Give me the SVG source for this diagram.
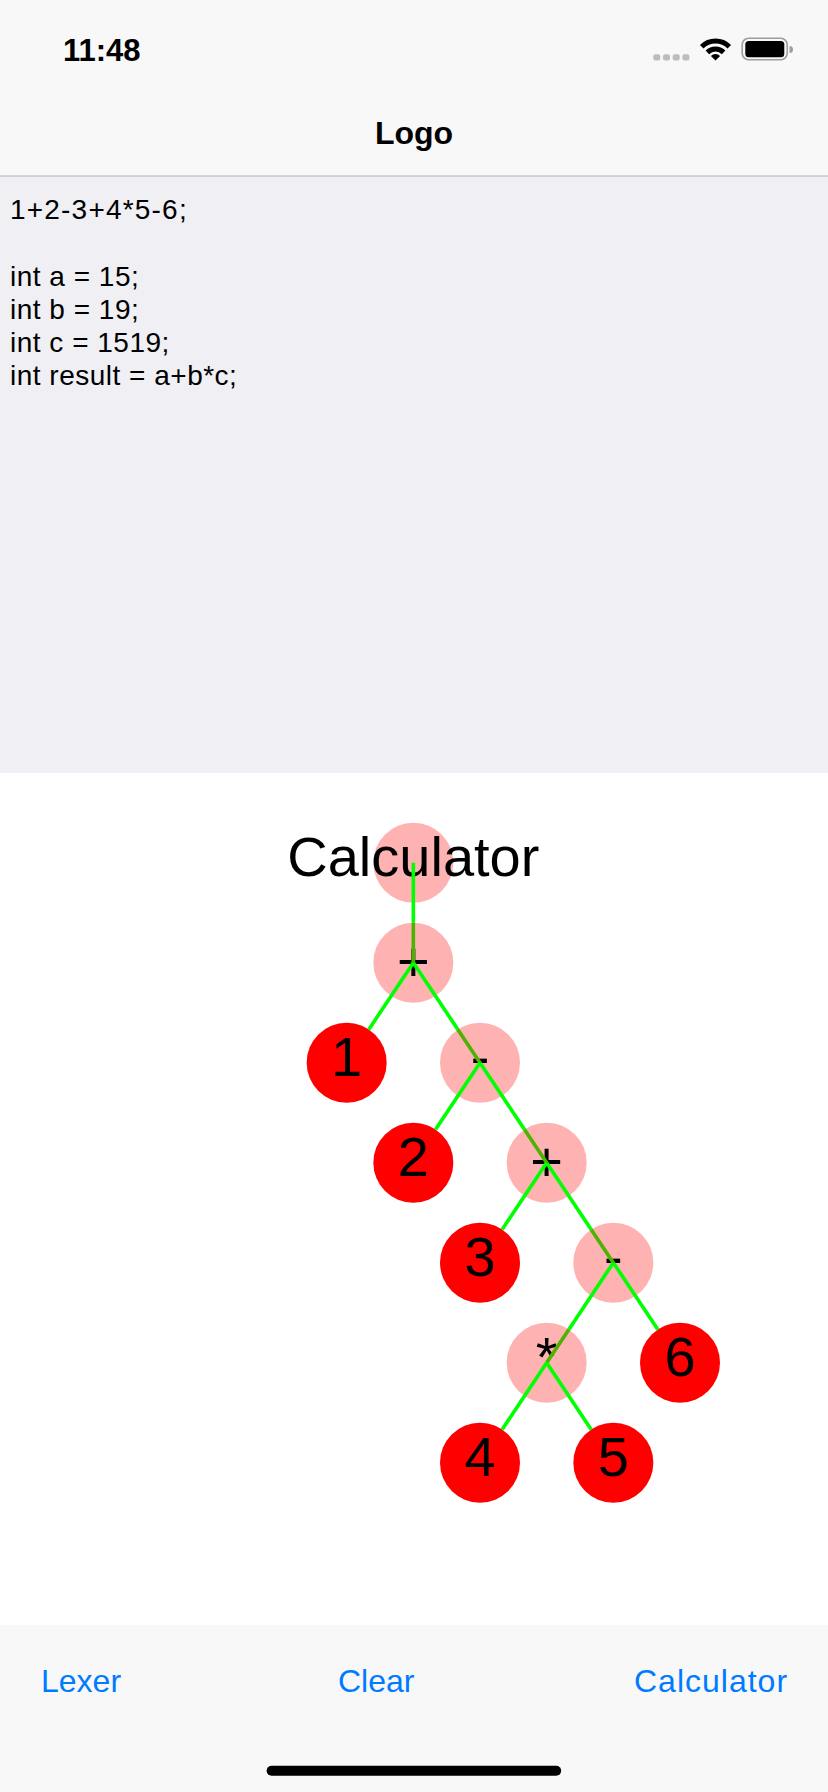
<svg xmlns="http://www.w3.org/2000/svg" width="828" height="1792" viewBox="0 0 828 1792">
  <style>
    .ui { font-family: "Liberation Sans", Arial, Helvetica, sans-serif; }
    .code { font-family: "Liberation Sans", Arial, Helvetica, sans-serif; font-size: 28px; fill: #000; letter-spacing: 0.5px; }
    .code.wide { letter-spacing: 1.2px; }
    .btn { font-family: "Liberation Sans", Arial, Helvetica, sans-serif; font-size: 32px; fill: #007AFF; }
    .lbl { font-family: "Liberation Sans", Arial, Helvetica, sans-serif; font-size: 56px; fill: #000; text-anchor: middle; }
    .op { fill: #FF0000; fill-opacity: 0.3; }
    .num { fill: #FF0000; }
    .edge { stroke: #00FF00; stroke-width: 3.6; fill: none; }
    .edge-in { stroke: #4DB300; stroke-width: 3.6; fill: none; }
  </style>

  <!-- backgrounds -->
  <rect x="0" y="0" width="828" height="176" fill="#F8F8F8"/>
  <rect x="0" y="176" width="828" height="597" fill="#EFEFF4"/>
  <rect x="0" y="175.5" width="828" height="1" fill="#B2B2B2"/>
  <rect x="0" y="773" width="828" height="852" fill="#FFFFFF"/>
  <rect x="0" y="1625" width="828" height="167" fill="#F8F8F8"/>

  <!-- status bar -->
  <g id="status-bar">
    <text class="ui" x="63" y="61" font-size="31" font-weight="bold" fill="#000">11:48</text>
    <g fill="#BDBDBD">
      <rect x="653.3" y="54.3" width="7" height="6.3" rx="2"/>
      <rect x="663" y="54.3" width="7" height="6.3" rx="2"/>
      <rect x="672.7" y="54.3" width="7" height="6.3" rx="2"/>
      <rect x="682.4" y="54.3" width="7" height="6.3" rx="2"/>
    </g>
    <g fill="none" stroke="#000" stroke-width="5">
      <path d="M 701.71 46.71 A 19.5 19.5 0 0 1 729.29 46.71"/>
      <path d="M 707.37 52.37 A 11.5 11.5 0 0 1 723.63 52.37"/>
    </g>
    <path d="M 715.5 60.5 L 710.9 55.9 A 6.5 6.5 0 0 1 720.1 55.9 Z" fill="#000"/>
    <rect x="742.2" y="38.2" width="45" height="21.6" rx="6.5" fill="none" stroke="#9E9E9E" stroke-width="1.6"/>
    <rect x="745.3" y="41" width="39" height="16.3" rx="3.5" fill="#000"/>
    <path d="M 789.5 46 A 3.5 3.5 0 0 1 789.5 53 Z" fill="#9E9E9E"/>
  </g>

  <!-- navigation title -->
  <text class="ui" x="414" y="144" font-size="32" font-weight="bold" fill="#000" text-anchor="middle">Logo</text>

  <!-- code text -->
  <g id="code-text">
    <text class="code wide" x="10" y="219">1+2-3+4*5-6;</text>
    <text class="code" x="10" y="285.5">int a = 15;</text>
    <text class="code" x="10" y="318.8">int b = 19;</text>
    <text class="code" x="10" y="352.1">int c = 1519;</text>
    <text class="code" x="10" y="385.4">int result = a+b*c;</text>
  </g>

  <!-- tree nodes -->
  <g id="node-root">
    <circle class="op" cx="413.33" cy="862.67" r="40"/>
    <text class="lbl" x="413.33" y="876">Calculator</text>
  </g>
  <g id="node-plus1">
    <circle class="op" cx="413.33" cy="962.67" r="40"/>
    <text class="lbl" x="413.33" y="981">+</text>
  </g>
  <g id="node-1">
    <circle class="num" cx="346.67" cy="1062.67" r="40"/>
    <text class="lbl" x="346.67" y="1076.2">1</text>
  </g>
  <g id="node-minus1">
    <circle class="op" cx="480" cy="1062.67" r="40"/>
    <text class="lbl" x="480" y="1076.2">-</text>
  </g>
  <g id="node-2">
    <circle class="num" cx="413.33" cy="1162.67" r="40"/>
    <text class="lbl" x="413.33" y="1176.2">2</text>
  </g>
  <g id="node-plus2">
    <circle class="op" cx="546.67" cy="1162.67" r="40"/>
    <text class="lbl" x="546.67" y="1181">+</text>
  </g>
  <g id="node-3">
    <circle class="num" cx="480" cy="1262.67" r="40"/>
    <text class="lbl" x="480" y="1276.2">3</text>
  </g>
  <g id="node-minus2">
    <circle class="op" cx="613.33" cy="1262.67" r="40"/>
    <text class="lbl" x="613.33" y="1276.2">-</text>
  </g>
  <g id="node-star">
    <circle class="op" cx="546.67" cy="1362.67" r="40"/>
    <text class="lbl" x="546.67" y="1376.2">*</text>
  </g>
  <g id="node-6">
    <circle class="num" cx="680" cy="1362.67" r="40"/>
    <text class="lbl" x="680" y="1376.2">6</text>
  </g>
  <g id="node-4">
    <circle class="num" cx="480" cy="1462.67" r="40"/>
    <text class="lbl" x="480" y="1476.2">4</text>
  </g>
  <g id="node-5">
    <circle class="num" cx="613.33" cy="1462.67" r="40"/>
    <text class="lbl" x="613.33" y="1476.2">5</text>
  </g>

  <!-- connectors -->
  <g id="connectors">
    <path class="edge" d="M 413.33 862.67 L 413.33 922.67"/>
    <path class="edge-in" d="M 413.33 922.67 L 413.33 962.67"/>
    <path class="edge" d="M 413.33 962.67 L 368.86 1029.39"/>
    <path class="edge" d="M 413.33 962.67 L 457.81 1029.39"/>
    <path class="edge-in" d="M 457.81 1029.39 L 480 1062.67"/>
    <path class="edge" d="M 480 1062.67 L 435.52 1129.39"/>
    <path class="edge" d="M 480 1062.67 L 524.48 1129.39"/>
    <path class="edge-in" d="M 524.48 1129.39 L 546.67 1162.67"/>
    <path class="edge" d="M 546.67 1162.67 L 502.19 1229.39"/>
    <path class="edge" d="M 546.67 1162.67 L 591.14 1229.39"/>
    <path class="edge-in" d="M 591.14 1229.39 L 613.33 1262.67"/>
    <path class="edge" d="M 613.33 1262.67 L 568.86 1329.39"/>
    <path class="edge-in" d="M 568.86 1329.39 L 546.67 1362.67"/>
    <path class="edge" d="M 613.33 1262.67 L 657.81 1329.39"/>
    <path class="edge" d="M 546.67 1362.67 L 502.19 1429.39"/>
    <path class="edge" d="M 546.67 1362.67 L 591.14 1429.39"/>
  </g>

  <!-- toolbar -->
  <g id="toolbar">
    <text class="btn" x="41" y="1692">Lexer</text>
    <text class="btn" x="338" y="1692">Clear</text>
    <text class="btn" x="634" y="1692" letter-spacing="1">Calculator</text>
  </g>
  <rect x="266.6" y="1765.7" width="294.6" height="10" rx="5" fill="#000"/>
</svg>
